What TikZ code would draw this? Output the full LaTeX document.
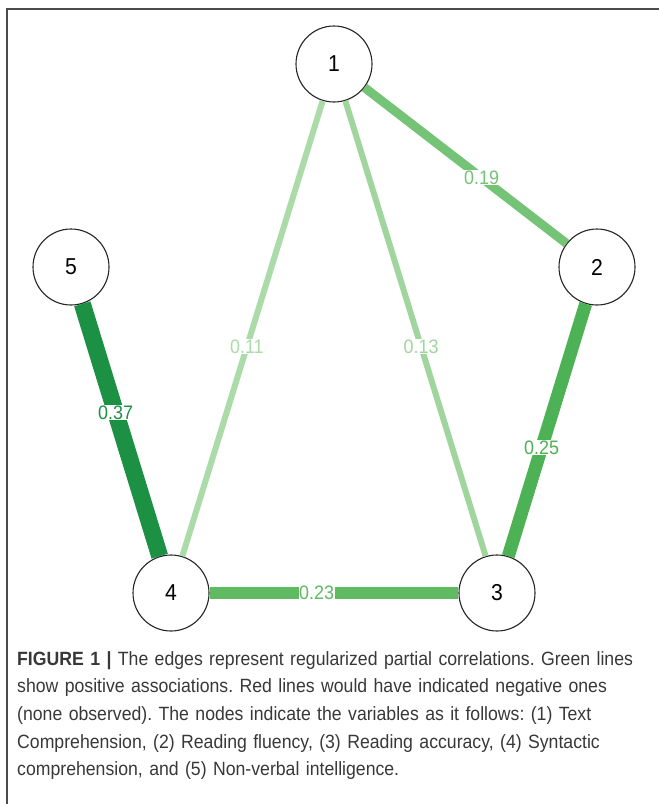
\documentclass[tikz,border=0pt]{standalone}
\usepackage{fontspec}
\setmainfont[FakeStretch=0.92]{Liberation Sans}
\frenchspacing

\definecolor{e12}{RGB}{116,195,118}
\definecolor{e13}{RGB}{160,214,158}
\definecolor{e14}{RGB}{170,219,168}
\definecolor{e23}{RGB}{77,178,85}
\definecolor{e34}{RGB}{96,186,98}
\definecolor{e45}{RGB}{28,145,68}

\begin{document}
\begin{tikzpicture}[x=1pt,y=-1pt,
  var/.style={circle,draw=black!85,line width=1.1pt,fill=white,minimum size=76pt,
    inner sep=0pt,font=\fontsize{23}{23}\selectfont},
  wlabel/.style={fill=white,inner sep=0.6pt,font=\fontsize{19.5}{19.5}\selectfont}]
  \useasboundingbox (0,0) rectangle (659,804);
  \draw[line width=2pt,black!70] (659,9)--(7,9)--(7,804);
  \node[var] (n1) at (334,64) {1};
  \node[var] (n2) at (597,267) {2};
  \node[var] (n3) at (497,593) {3};
  \node[var] (n4) at (171,593) {4};
  \node[var] (n5) at (71,267) {5};
  \draw[line width=6pt,e14] (n1)--(n4) node[wlabel,pos=.54,text=e14]{0.11};
  \draw[line width=6pt,e13] (n1)--(n3) node[wlabel,pos=.54,text=e13]{0.13};
  \draw[line width=9pt,e12] (n1)--(n2) node[wlabel,pos=.58,text=e12]{0.19};
  \draw[line width=12pt,e34] (n3)--(n4) node[wlabel,pos=.57,text=e34]{0.23};
  \draw[line width=13pt,e23] (n2)--(n3) node[wlabel,pos=.57,text=e23]{0.25};
  \draw[line width=17pt,e45] (n4)--(n5) node[wlabel,pos=.57,text=e45]{0.37};
  \node[anchor=north west,inner sep=0pt,text width=640pt,align=left,text=black!78,
    font=\fontsize{19.2}{27.7}\selectfont] (caption) at (17,651)
    {\textbf{FIGURE 1 |} The edges represent regularized partial correlations. Green lines\\
     show positive associations. Red lines would have indicated negative ones\\
     (none observed). The nodes indicate the variables as it follows: (1) Text\\
     Comprehension, (2) Reading fluency, (3) Reading accuracy, (4) Syntactic\\
     comprehension, and (5) Non-verbal intelligence.};
\end{tikzpicture}
\end{document}
